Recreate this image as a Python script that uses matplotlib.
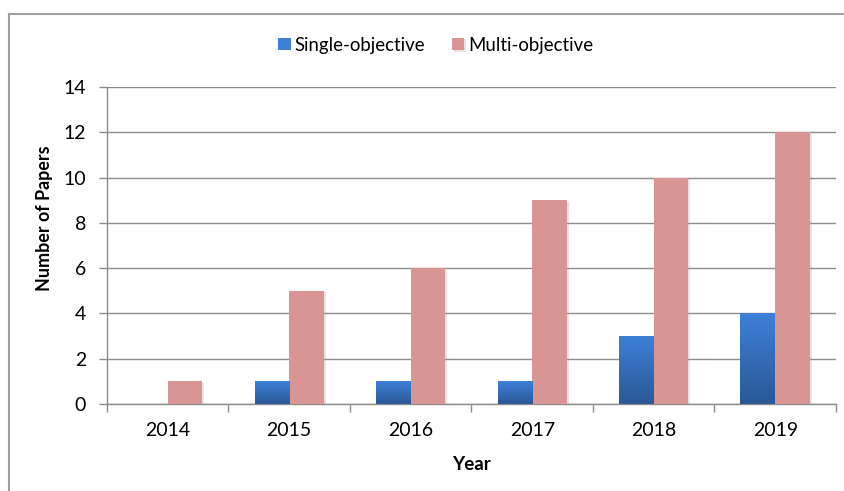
import matplotlib
matplotlib.use("Agg")
import matplotlib.pyplot as plt
import matplotlib.patheffects as pe
import numpy as np
from matplotlib.lines import Line2D
from matplotlib.colors import LinearSegmentedColormap

years = ["2014", "2015", "2016", "2017", "2018", "2019"]
single_objective = [0, 1, 1, 1, 3, 4]
multi_objective = [1, 5, 6, 9, 10, 12]

plt.rcParams["font.family"] = ["Lato", "DejaVu Sans"]

fig = plt.figure(figsize=(8.45, 4.91), dpi=100)
ax = fig.add_axes([0.1266, 0.1772, 0.8627, 0.6456])

x = np.arange(len(years))
w = 1 / 3.5
blue_top, blue_bottom = "#3d80d8", "#2a5896"
pink = "#d99594"
shadow = [pe.SimplePatchShadow(offset=(1.2, -1.2), shadow_rgbFace="#999999",
                               alpha=0.25), pe.Normal()]

single_bars = ax.bar(x - w / 2, single_objective, width=w, color=blue_top,
                     label="Single-objective", zorder=3, linewidth=0)
multi_bars = ax.bar(x + w / 2, multi_objective, width=w, color=pink,
                    label="Multi-objective", zorder=3, linewidth=0)
for bar in list(single_bars) + list(multi_bars):
    if bar.get_height() > 0:
        bar.set_path_effects(shadow)

# vertical gradient fill for the single-objective bars
grad = LinearSegmentedColormap.from_list("blue_grad", [blue_bottom, blue_top])
for bar in single_bars:
    h = bar.get_height()
    if h <= 0:
        continue
    x0 = bar.get_x()
    img = ax.imshow(np.linspace(0, 1, 256).reshape(-1, 1), cmap=grad,
                    origin="lower", aspect="auto",
                    extent=[x0, x0 + bar.get_width(), 0, h], zorder=4)
    img.set_clip_path(bar)

ax.set_xlim(-0.5, len(years) - 0.5)
ax.set_ylim(0, 14)
ax.set_yticks(range(0, 15, 2))
ax.set_xticks(x)
ax.set_xticklabels(years)
ax.set_xticks(np.arange(-0.5, len(years), 1.0), minor=True)

grid_c = "#8c8c8c"
ax.yaxis.grid(True, color=grid_c, linewidth=1.0, zorder=0)
ax.set_axisbelow(True)
for s in ["top", "right"]:
    ax.spines[s].set_visible(False)
for s in ["left", "bottom"]:
    ax.spines[s].set_color(grid_c)
    ax.spines[s].set_linewidth(1.0)

ax.tick_params(axis="y", direction="out", length=6, color=grid_c, width=1,
               labelsize=14, pad=9)
ax.tick_params(axis="x", which="major", length=0, labelsize=14, pad=13)
ax.tick_params(axis="x", which="minor", direction="out", length=6,
               color=grid_c, width=1)

ax.set_xlabel("Year", fontsize=13.5, fontweight="bold")
ax.xaxis.set_label_coords(0.5, -0.164)
ax.set_ylabel("Number of Papers", fontsize=12.9, fontweight="bold")
ax.yaxis.set_label_coords(-0.0743, 0.585)

fig.legend(handles=[single_bars, multi_bars],
           labels=["Single-objective", "Multi-objective"],
           loc="center", bbox_to_anchor=(436 / 845, 1 - 45 / 491), ncol=2,
           frameon=False, fontsize=13.4, handlelength=0.65, handleheight=0.65,
           columnspacing=1.45, handletextpad=0.22, borderpad=0)

# outer chart frame
frame_c = "#a0a0a0"
fig.add_artist(Line2D([9 / 845, 1.0], [1 - 14 / 491, 1 - 14 / 491],
                      transform=fig.transFigure, color=frame_c, linewidth=1.5))
fig.add_artist(Line2D([9 / 845, 9 / 845], [0, 1 - 14 / 491],
                      transform=fig.transFigure, color=frame_c, linewidth=1.5))

fig.savefig("out.png", dpi=100)
